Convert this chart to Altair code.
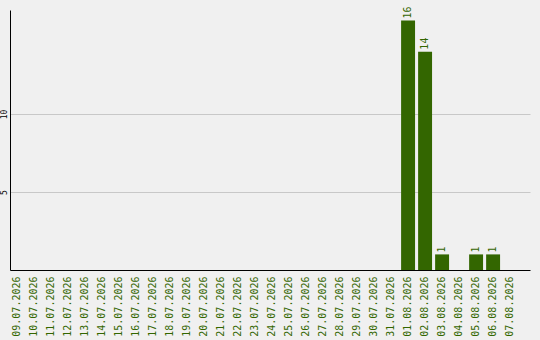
import altair as alt
import pandas as pd

# Daily counts, 09.07.2026 - 07.08.2026
dates = [
    "09.07.2026", "10.07.2026", "11.07.2026", "12.07.2026", "13.07.2026",
    "14.07.2026", "15.07.2026", "16.07.2026", "17.07.2026", "18.07.2026",
    "19.07.2026", "20.07.2026", "21.07.2026", "22.07.2026", "23.07.2026",
    "24.07.2026", "25.07.2026", "26.07.2026", "27.07.2026", "28.07.2026",
    "29.07.2026", "30.07.2026", "31.07.2026", "01.08.2026", "02.08.2026",
    "03.08.2026", "04.08.2026", "05.08.2026", "06.08.2026", "07.08.2026",
]
counts = [0] * 23 + [16, 14, 1, 0, 1, 1, 0]

df = pd.DataFrame({"date": dates, "count": counts})

GREEN = "#336600"
FONT = "DejaVu Sans Mono"

x_enc = alt.X(
    "date:N",
    sort=dates,
    scale=alt.Scale(domain=dates, paddingInner=0.18, paddingOuter=0.38, align=0),
    axis=alt.Axis(
        title=None,
        labelAngle=-90,
        labelAlign="right",
        labelBaseline="middle",
        labelColor=GREEN,
        labelFont=FONT,
        labelFontSize=10,
        labelPadding=6,
        ticks=False,
        domainColor="#000000",
        domainWidth=1,
        grid=False,
    ),
)

y_scale = alt.Scale(domain=[0, 16.67], nice=False, zero=True)

bars = alt.Chart(df).transform_filter(alt.datum["count"] > 0).mark_bar(
    color=GREEN
).encode(
    x=x_enc,
    y=alt.Y(
        "count:Q",
        scale=y_scale,
        axis=alt.Axis(
            title=None,
            values=[5, 10],
            labelAngle=-90,
            labelAlign="center",
            labelBaseline="bottom",
            labelFont=FONT,
            labelFontSize=8,
            labelColor="#000000",
            labelPadding=2,
            ticks=False,
            domainColor="#000000",
            domainWidth=1,
            gridColor="#c8c8c8",
            gridWidth=1,
        ),
    ),
)

labels = alt.Chart(df).transform_filter(alt.datum["count"] > 0).mark_text(
    angle=270,
    align="left",
    baseline="middle",
    dx=2,
    font=FONT,
    fontSize=10,
    color=GREEN,
).encode(
    x=alt.X("date:N", sort=dates),
    y=alt.Y("count:Q", scale=y_scale),
    text="count:Q",
)

chart = (
    alt.layer(bars, labels)
    .properties(
        width=520,
        height=260,
        background="#f0f0f0",
        padding={"left": 10, "top": 10, "right": 10, "bottom": 70},
        autosize=alt.AutoSizeParams(type="none"),
    )
    .configure_view(stroke=None)
)

chart.save("out.html", embed_options={"renderer": "svg", "actions": False})
